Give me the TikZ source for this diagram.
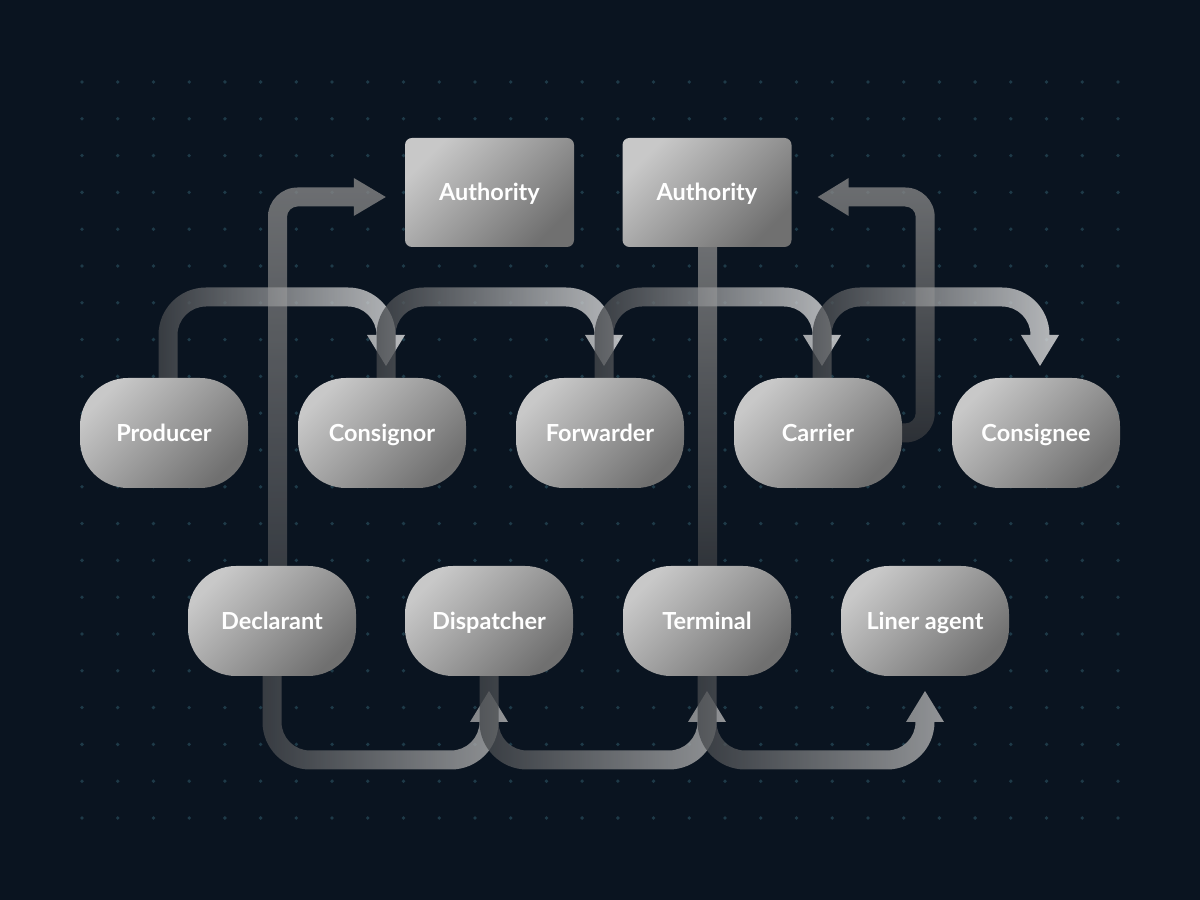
\documentclass[tikz,border=0pt]{standalone}
\usepackage{fontspec}
\setmainfont{Lato}
\usetikzlibrary{calc}
\definecolor{bgc}{HTML}{0A1420}
\definecolor{dotc}{HTML}{1E3A48}
\definecolor{nodeA}{HTML}{C8C8C8}
\definecolor{nodeC}{HTML}{707070}
\definecolor{bandDark}{HTML}{45484C}
\definecolor{bandLight}{HTML}{E8E8E8}
\definecolor{botLight}{HTML}{B8B8B8}
\definecolor{sideDark}{HTML}{44474C}
\definecolor{sideLight}{HTML}{8A8A8A}
\pgfdeclarelayer{back}
\pgfdeclarelayer{mid}
\pgfsetlayers{back,mid,main}
% top band: from north of #1 to north of #2
\newcommand\TopBand[2]{%
  \shade[band, left color=bandDark, right color=bandLight]
  let \p1=(#1.north), \p2=(#2.north), \n1={\x1+4pt}, \n2={\x2+4pt} in
  ({\n1-9.5pt},{\y1-12pt}) -- ({\n1-9.5pt},565pt)
  arc[start angle=180, end angle=90, radius=47.5pt]
  -- ({\n2-38pt},612.5pt)
  arc[start angle=90, end angle=0, radius=47.5pt]
  -- ({\n2+19pt},565pt) -- ({\n2},534pt) -- ({\n2-19pt},565pt) -- ({\n2-9.5pt},565pt)
  arc[start angle=0, end angle=90, radius=28.5pt]
  -- ({\n1+38pt},593.5pt)
  arc[start angle=90, end angle=180, radius=28.5pt]
  -- ({\n1+9.5pt},{\y1-12pt}) -- cycle;}
% bottom band: from south of #1 to south of #2
\newcommand\BotBand[2]{%
  \shade[band, left color=bandDark, right color=botLight]
  let \p1=(#1.south), \p2=(#2.south), \n1={\x1}, \n2={\x2} in
  ({\n1-9.5pt},{\y1+12pt}) -- ({\n1-9.5pt},178pt)
  arc[start angle=180, end angle=270, radius=47.5pt]
  -- ({\n2-38pt},130.5pt)
  arc[start angle=270, end angle=360, radius=47.5pt]
  -- ({\n2+19pt},178pt) -- ({\n2},209pt) -- ({\n2-19pt},178pt) -- ({\n2-9.5pt},178pt)
  arc[start angle=0, end angle=-90, radius=28.5pt]
  -- ({\n1+38pt},149.5pt)
  arc[start angle=270, end angle=180, radius=28.5pt]
  -- ({\n1+9.5pt},{\y1+12pt}) -- cycle;}
\begin{document}
\begin{tikzpicture}[x=1pt,y=1pt,
  band/.style={opacity=0.78},
  pill/.style={rectangle, rounded corners=48pt, minimum width=168pt, minimum height=110pt,
    shade, top color=nodeA, bottom color=nodeC, shading angle=45,
    text=white, font=\fontsize{23.5}{27}\selectfont\bfseries,
    text height=16.8pt, text depth=0pt, inner sep=0pt},
  authbox/.style={pill, rounded corners=7pt, minimum width=169pt, minimum height=109pt}]
\useasboundingbox (0,0) rectangle (1200,900);
\begin{pgfonlayer}{back}
  \fill[bgc] (0,0) rectangle (1200,900);
  \foreach \i in {0,...,29} {
    \foreach \j in {0,...,20} {
      \fill[dotc] ({82+\i*35.724},{82+\j*36.8}) circle[radius=1.9];
    }
  }
\end{pgfonlayer}
% nodes
\node[authbox] (auth1) at (489.5,707.5) {Authority};
\node[authbox] (auth2) at (707,707.5) {Authority};
\node[pill] (producer)  at (164,467) {Producer};
\node[pill] (consignor) at (382,467) {Consignor};
\node[pill] (forwarder) at (600,467) {Forwarder};
\node[pill] (carrier)   at (818,467) {Carrier};
\node[pill] (consignee) at (1036,467) {Consignee};
\node[pill] (declarant)  at (272,279) {Declarant};
\node[pill] (dispatcher) at (489,279) {Dispatcher};
\node[pill] (terminal)   at (707,279) {Terminal};
\node[pill] (liner)      at (925,279) {Liner agent};
% connectors
\begin{pgfonlayer}{mid}
  % terminal - authority line
  \shade[band, top color=sideLight, bottom color=sideDark!85!black]
    let \p1=(auth2.south), \p2=(terminal.north) in
    ({\x1-9pt},{\y1+6pt}) rectangle ({\x1+10pt},{\y2-6pt});
  % declarant -> authority
  \shade[band, top color=sideLight, bottom color=sideDark]
    let \p1=(declarant.north), \p2=(auth1.west), \n1={\x1+5.5pt},
        \n2={\y2-4.5pt}, \n3={\x2-19pt}, \n4={\x2-51pt} in
    ({\n1-9.5pt},{\y1-12pt}) -- ({\n1-9.5pt},{\n2-20pt})
    arc[start angle=180, end angle=90, radius=29.5pt]
    -- ({\n4},{\n2+9.5pt}) -- ({\n4},{\n2+19pt}) -- ({\n3},{\n2})
    -- ({\n4},{\n2-19pt}) -- ({\n4},{\n2-9.5pt}) -- ({\n1+20pt},{\n2-9.5pt})
    arc[start angle=90, end angle=180, radius=10.5pt]
    -- ({\n1+9.5pt},{\y1-12pt}) -- cycle;
  % carrier -> authority
  \shade[band, top color=sideLight, bottom color=sideDark!80!black]
    let \p1=(carrier.east), \p2=(auth2.east), \n1={\x1+23pt}, \n2={\y2-4.5pt},
        \n3={\x2+26pt}, \n4={\x2+57pt}, \n5={\y1} in
    ({\x1-12pt},{\n5+9.5pt}) -- ({\n1-20pt},{\n5+9.5pt})
    arc[start angle=270, end angle=360, radius=10.5pt]
    -- ({\n1-9.5pt},{\n2-20pt})
    arc[start angle=0, end angle=90, radius=10.5pt]
    -- ({\n4},{\n2-9.5pt}) -- ({\n4},{\n2-19pt}) -- ({\n3},{\n2})
    -- ({\n4},{\n2+19pt}) -- ({\n4},{\n2+9.5pt}) -- ({\n1-20pt},{\n2+9.5pt})
    arc[start angle=90, end angle=0, radius=29.5pt]
    -- ({\n1+9.5pt},{\n5+20pt})
    arc[start angle=0, end angle=-90, radius=29.5pt]
    -- ({\x1-12pt},{\n5-9.5pt}) -- cycle;
  \TopBand{producer}{consignor}
  \TopBand{consignor}{forwarder}
  \TopBand{forwarder}{carrier}
  \TopBand{carrier}{consignee}
  \BotBand{declarant}{dispatcher}
  \BotBand{dispatcher}{terminal}
  \BotBand{terminal}{liner}
\end{pgfonlayer}
\end{tikzpicture}
\end{document}
